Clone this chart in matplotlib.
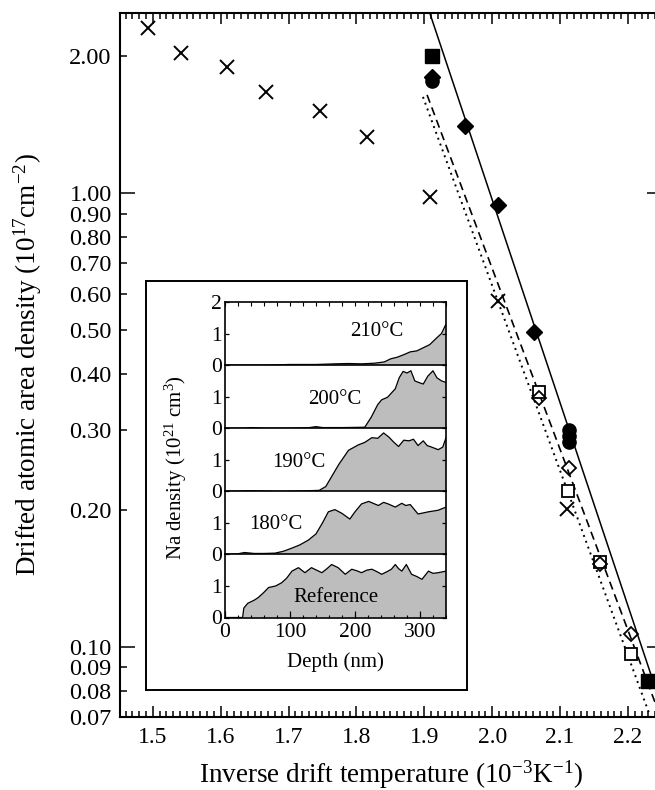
import matplotlib
matplotlib.use("Agg")
import matplotlib.pyplot as plt
from matplotlib.ticker import FixedLocator, FuncFormatter, MultipleLocator

plt.rcParams['font.family'] = ['Liberation Serif', 'DejaVu Serif']
plt.rcParams['mathtext.fontset'] = 'custom'
plt.rcParams['mathtext.rm'] = 'Liberation Serif'
plt.rcParams['mathtext.default'] = 'regular'

# ---------------- main data ----------------
cross_x = [1.493, 1.542, 1.610, 1.667, 1.746, 1.815, 1.908, 2.009, 2.110]
cross_y = [2.31, 2.036, 1.897, 1.67, 1.517, 1.33, 0.978, 0.577, 0.201]

fdiam_x = [1.911, 1.960, 2.009, 2.061]
fdiam_y = [1.80, 1.406, 0.942, 0.493]

fcirc_x = [1.911, 2.113, 2.113, 2.113]
fcirc_y = [1.77, 0.301, 0.291, 0.282]

fsq_x = [1.911, 2.230]
fsq_y = [2.006, 0.0842]

odiam_x = [2.069, 2.113, 2.159, 2.205]
odiam_y = [0.354, 0.248, 0.152, 0.1067]

osq_x = [2.069, 2.112, 2.159, 2.205]
osq_y = [0.365, 0.2205, 0.154, 0.0964]

solid_x = [1.908, 2.250]
solid_y = [2.494, 0.0734]
dashed_x = [1.904, 2.250]
dashed_y = [1.646, 0.0686]
dotted_x = [1.898, 2.2330]
dotted_y = [1.629, 0.070]

ytick_major = [0.1, 1.0]
ytick_minor = [0.07, 0.08, 0.09, 0.2, 0.3, 0.4, 0.5, 0.6, 0.7, 0.8, 0.9, 2.0]
xtick_major = [1.5, 1.6, 1.7, 1.8, 1.9, 2.0, 2.1, 2.2]

# ---------------- inset data ----------------
panel_labels = ['210°C', '200°C', '190°C', '180°C', 'Reference']

d210 = [0, 60, 100, 140, 170, 190, 210, 230, 245, 255, 265, 275, 285, 295, 305, 315, 325, 333, 340]
n210 = [0.0, 0.0, 0.02, 0.02, 0.04, 0.05, 0.04, 0.06, 0.1, 0.2, 0.25, 0.33, 0.42, 0.45, 0.55, 0.65, 0.85, 1.0, 1.3]

d200 = [0, 30, 40, 60, 100, 130, 140, 150, 180, 215, 225, 235, 241, 250, 262, 268, 274, 280, 286,
        292, 298, 305, 312, 320, 326, 333, 340]
n200 = [0, 0, 0.02, 0, 0, 0.02, 0.05, 0.02, 0.02, 0.03, 0.35, 0.75, 0.9, 0.98, 1.25, 1.6, 1.8, 1.75,
        1.82, 1.5, 1.45, 1.4, 1.65, 1.82, 1.6, 1.5, 1.45]

d190 = [0, 40, 80, 110, 130, 145, 155, 165, 175, 190, 205, 215, 226, 235, 244, 252, 260, 267, 275,
        283, 290, 297, 305, 311, 318, 328, 335, 340]
n190 = [0, 0.02, 0, 0.01, 0.02, 0.03, 0.15, 0.5, 0.85, 1.3, 1.47, 1.55, 1.7, 1.68, 1.85, 1.72, 1.55,
        1.42, 1.62, 1.6, 1.65, 1.45, 1.6, 1.45, 1.4, 1.32, 1.4, 1.7]

d180 = [0, 20, 30, 45, 60, 77, 90, 103, 115, 128, 140, 150, 159, 169, 180, 192, 200, 210, 221, 236,
        244, 251, 262, 272, 278, 285, 297, 313, 328, 340]
n180 = [0, 0.02, 0.06, 0.03, 0.03, 0.04, 0.1, 0.2, 0.3, 0.45, 0.65, 1.0, 1.35, 1.42, 1.3, 1.12, 1.35,
        1.6, 1.68, 1.55, 1.65, 1.6, 1.5, 1.62, 1.55, 1.58, 1.28, 1.35, 1.4, 1.5]

dref = [0, 27, 29, 35, 45, 51, 60, 67, 78, 87, 95, 103, 113, 118, 123, 133, 141, 149, 157, 164, 174,
        185, 195, 203, 210, 218, 226, 234, 241, 249, 256, 262, 267, 272, 279, 287, 295, 303, 313, 320,
        328, 340]
nref = [0, 0, 0.3, 0.45, 0.55, 0.63, 0.8, 0.95, 1.0, 1.1, 1.25, 1.47, 1.58, 1.5, 1.42, 1.58, 1.5, 1.42,
        1.55, 1.68, 1.58, 1.37, 1.53, 1.48, 1.42, 1.5, 1.53, 1.45, 1.37, 1.45, 1.53, 1.68, 1.55, 1.47,
        1.68, 1.37, 1.3, 1.21, 1.47, 1.4, 1.42, 1.47]

profiles = [(d210, n210), (d200, n200), (d190, n190), (d180, n180), (dref, nref)]
label_pos = [(233, 1.05), (169, 0.9), (114, 0.9), (78, 0.95), (170, 0.63)]

# ---------------- figure ----------------
W, H = 655, 790
fig = plt.figure(figsize=(W / 100, H / 100), dpi=100)

def fr(x0, y0, x1, y1):
    return [x0 / W, (H - y1) / H, (x1 - x0) / W, (y1 - y0) / H]

ax = fig.add_axes(fr(120, 13, 662, 717))
ax.set_yscale('log')
ax.set_xlim(1.4518, 2.2500)
ax.set_ylim(0.07, 2.494)

ax.plot(solid_x, solid_y, color='k', lw=1.1, zorder=2)
ax.plot(dashed_x, dashed_y, color='k', lw=1.2, dashes=(5, 3), zorder=2)
ax.plot(dotted_x, dotted_y, color='k', lw=1.4, dashes=(1, 2.2), zorder=2)

ax.plot(cross_x, cross_y, 'x', color='k', ms=10, mew=1.4, zorder=3)
ax.plot(fcirc_x, fcirc_y, 'o', color='k', ms=9.5, zorder=3)
ax.plot(fdiam_x, fdiam_y, 'D', color='k', ms=8.5, zorder=3)
ax.plot(fsq_x, fsq_y, 's', color='k', ms=9.5, zorder=3)
ax.plot(osq_x, osq_y, 's', mfc='white', mec='k', ms=8.5, mew=1.3, zorder=3)
ax.plot(odiam_x, odiam_y, 'D', mfc='none', mec='k', ms=7.5, mew=1.3, zorder=4)

fmt = FuncFormatter(lambda v, p: f"{v:.2f}")
ax.yaxis.set_major_locator(FixedLocator(ytick_major))
ax.yaxis.set_minor_locator(FixedLocator(ytick_minor))
ax.yaxis.set_major_formatter(fmt)
ax.yaxis.set_minor_formatter(fmt)
ax.xaxis.set_major_locator(FixedLocator(xtick_major))
ax.xaxis.set_minor_locator(MultipleLocator(0.01))
ax.xaxis.set_major_formatter(FuncFormatter(lambda v, p: f"{v:.1f}"))

ax.tick_params(which='both', direction='in', top=True, right=True, width=1.1)
ax.tick_params(axis='y', which='both', labelsize=17.5)
ax.tick_params(axis='x', which='both', labelsize=17)
ax.tick_params(axis='y', which='major', length=11, pad=6)
ax.tick_params(axis='y', which='minor', length=5, pad=6)
ax.tick_params(axis='x', which='major', length=8, pad=7)
ax.tick_params(axis='x', which='minor', length=4)
for s in ax.spines.values():
    s.set_linewidth(1.5)

ax.set_xlabel('Inverse drift temperature (10$^{-3}$K$^{-1}$)', fontsize=19.5, labelpad=8)
ax.set_ylabel('Drifted atomic area density (10$^{17}$cm$^{-2}$)', fontsize=19.5, labelpad=18)

# inset frame
frame = fig.add_axes(fr(146, 281, 467, 690))
frame.set_xticks([])
frame.set_yticks([])
frame.set_facecolor('white')
for s in frame.spines.values():
    s.set_linewidth(1.4)

# inset panels
top_px, bot_px = 302, 617.5
ph = (bot_px - top_px) / 5
for i, ((d, n), lab, (lx, ly)) in enumerate(zip(profiles, panel_labels, label_pos)):
    a = fig.add_axes(fr(225, top_px + ph * i, 446, top_px + ph * (i + 1)))
    a.set_xlim(0, 340)
    a.set_ylim(0, 2)
    a.fill_between(d, 0, n, facecolor='#bdbdbd', edgecolor='none', zorder=1)
    a.plot(d, n, color='k', lw=0.9, zorder=2)
    a.text(lx, ly, lab, ha='center', va='center', fontsize=15, zorder=3)
    a.set_yticks([0, 1, 2] if i == 0 else [0, 1])
    a.tick_params(axis='y', direction='in', length=3, width=0.9, left=True, right=True,
                  labelsize=15.5, pad=2)
    a.spines['top'].set_visible(i == 0)
    for s in a.spines.values():
        s.set_linewidth(1.2)
    a.patch.set_alpha(0)
    if i == 4:
        a.xaxis.set_major_locator(FixedLocator([0, 100, 200, 300]))
        a.xaxis.set_minor_locator(MultipleLocator(20))
        a.tick_params(axis='x', which='major', direction='in', length=5, width=0.9,
                      labelsize=15.5, pad=4)
        a.tick_params(axis='x', which='minor', direction='in', length=2.5, width=0.8)
        a.set_xlabel('Depth (nm)', fontsize=15, labelpad=7)
    elif i == 0:
        a.xaxis.set_major_locator(FixedLocator([0, 100, 200, 300]))
        a.xaxis.set_minor_locator(MultipleLocator(20))
        a.tick_params(axis='x', which='both', direction='in', top=True, bottom=False,
                      labelbottom=False, length=3, width=0.8)
    else:
        a.set_xticks([])

fig.text(176 / W, 1 - 468 / H, 'Na density (10$^{21}$ cm$^{3}$)', rotation=90,
         ha='center', va='center', fontsize=15)

fig.savefig('out.png', dpi=100)
